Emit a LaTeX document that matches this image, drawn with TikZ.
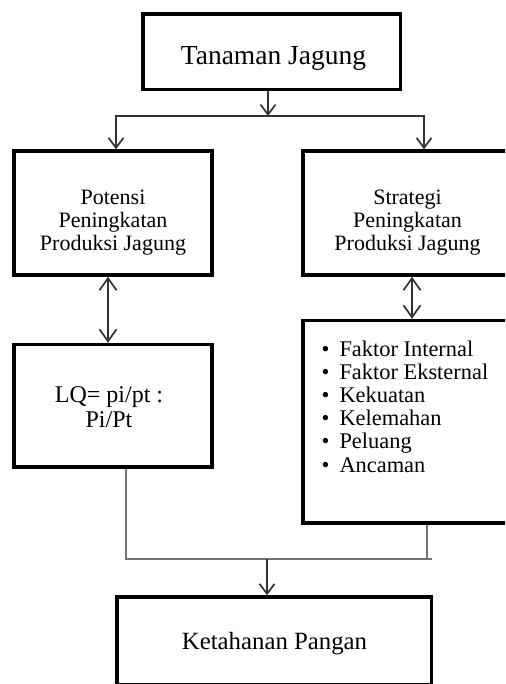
\documentclass[tikz,border=0pt]{standalone}
\usepackage{fontspec}
\setmainfont{Liberation Serif}
\usetikzlibrary{arrows.meta,calc}
\begin{document}
\begin{tikzpicture}[x=1pt,y=-1pt,
  box/.style={draw=black,line width=3.5pt,rectangle,inner sep=0pt},
  lbl/.style={inner sep=0pt,align=center,text=black},
  conn/.style={draw=black!80,line width=1.7pt},
  arr/.style={conn,-{Straight Barb[length=10pt,width=15pt]}},
  darr/.style={conn,{Straight Barb[length=12pt,width=17pt]}-{Straight Barb[length=12pt,width=17pt]}},
  gline/.style={draw=black!55,line width=1.8pt}]
\useasboundingbox (0,0) rectangle (505,684);
\clip (0,0) rectangle (505,684);
% boxes
\node[box,minimum width=257.5pt,minimum height=75.5pt] (top) at (271.75,51.75) {};
\node[box,minimum width=198pt,minimum height=124pt] (left) at (113,213) {};
\node[box,minimum width=208pt,minimum height=124pt] (right) at (407,213) {};
\node[box,minimum width=198pt,minimum height=122.5pt] (lq) at (113,405.75) {};
\node[box,minimum width=208pt,minimum height=202.5pt] (list) at (407,421.75) {};
\node[box,minimum width=314.5pt,minimum height=87.5pt] (bottom) at (274.25,640.75) {};
% texts
\node[lbl,font=\fontsize{27.5}{29}\selectfont,anchor=base] (topt) at (273.5,65) {Tanaman Jagung};
\node[lbl,font=\fontsize{22}{23}\selectfont] (leftt) at (113,223) {Potensi\\Peningkatan\\Produksi Jagung};
\node[lbl,font=\fontsize{22}{23}\selectfont] (rightt) at (407.5,223) {Strategi\\Peningkatan\\Produksi Jagung};
\node[lbl,font=\fontsize{24}{25}\selectfont] (lqt) at (109,407) {LQ= pi/pt :\\Pi/Pt};
\node[lbl,align=left,anchor=west,font=\fontsize{22.4}{23.2}\selectfont] (listt) at (321.5,406.5) {%
\textbullet\hspace{10pt}Faktor Internal\\
\textbullet\hspace{10pt}Faktor Eksternal\\
\textbullet\hspace{10pt}Kekuatan\\
\textbullet\hspace{10pt}Kelemahan\\
\textbullet\hspace{10pt}Peluang\\
\textbullet\hspace{10pt}Ancaman};
\node[lbl,font=\fontsize{24.8}{27}\selectfont,anchor=base] (bott) at (274.5,649) {Ketahanan Pangan};
% connectors
\coordinate (j1) at (268,116);
\coordinate (jl) at (116,116);
\coordinate (jr) at (424,116);
\draw[arr] (j1 |- top.south) -- (j1);
\draw[arr] (j1) -- (jl) -- (jl |- left.north);
\draw[arr] (j1) -- (jr) -- (jr |- right.north);
\coordinate (dl) at (108,300);
\coordinate (dr) at (412,300);
\draw[darr] (dl |- left.south) -- (dl |- lq.north);
\draw[darr] (dr |- right.south) -- (dr |- list.north);
\coordinate (bl) at (125.7,559);
\coordinate (br) at (426.7,559);
\coordinate (bx) at (432,559);
\coordinate (bm) at (267,559);
\draw[gline] (bl |- lq.south) -- (bl) -- (bx);
\draw[gline] (br |- list.south) -- (br);
\draw[arr] (bm) -- (bm |- bottom.north);
\end{tikzpicture}
\end{document}
